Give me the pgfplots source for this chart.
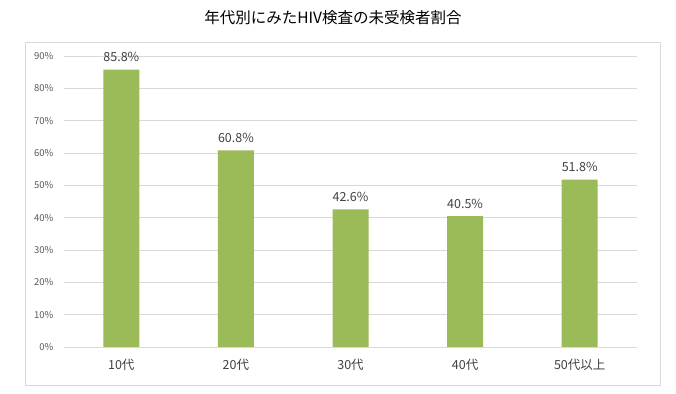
\documentclass[border=0pt]{standalone}
\usepackage{pgfplots}
\pgfplotsset{compat=1.18}
\usepackage{fontspec}
\setmainfont{Noto Sans CJK JP}
\definecolor{barg}{HTML}{9BBB59}
\definecolor{gridc}{HTML}{D9D9D9}
\definecolor{tickc}{HTML}{595959}
\definecolor{txtc}{HTML}{404040}
\begin{document}
\begin{tikzpicture}[x=1pt,y=1pt]
\useasboundingbox (0,0) rectangle (676,393);
\draw[gridc, line width=0.8pt] (25,8) rectangle (660,351);
\node[font=\fontsize{15.5}{18}\selectfont, text=black] at (333,375) {年代別にみたHIV検査の未受検者割合};
\begin{axis}[
  at={(64pt,46pt)}, anchor=south west,
  scale only axis, width=573pt, height=291pt,
  xmin=-0.5, xmax=4.5, ymin=0, ymax=90,
  xtick={0,1,2,3,4},
  xticklabels={10代,20代,30代,40代,50代以上},
  ytick={0,10,...,90},
  yticklabel={\pgfmathprintnumber{\tick}\%},
  /pgf/number format/assume math mode=true,
  ymajorgrids, grid style={gridc, line width=0.7pt},
  axis line style={draw=none},
  axis x line*=bottom,
  x axis line style={draw=gridc, line width=0.8pt},
  major tick length=0pt,
  tick style={draw=none},
  yticklabel style={font=\fontsize{9.5}{11}\selectfont, text=tickc, xshift=-7pt},
  xticklabel style={font=\fontsize{12.5}{14}\selectfont, text=txtc, yshift=-9pt},
  ybar, bar width=36pt,
  nodes near coords={\pgfmathprintnumber[fixed,fixed zerofill,precision=1]{\pgfplotspointmeta}\%},
  every node near coord/.append style={font=\fontsize{12.5}{14}\selectfont, text=txtc, yshift=4pt},
  clip=false,
]
\addplot[fill=barg, draw=none] coordinates {(0,85.8) (1,60.8) (2,42.6) (3,40.5) (4,51.8)};
\end{axis}
\end{tikzpicture}
\end{document}
